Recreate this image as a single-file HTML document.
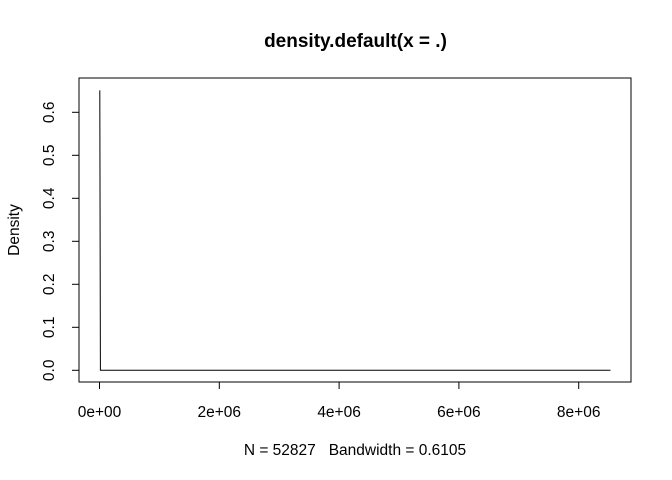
<!DOCTYPE html>
<html><head><meta charset="utf-8"><style>
html,body{margin:0;padding:0;background:#fff;}
svg{display:block;font-family:"Liberation Sans",Arial,sans-serif;}
text{white-space:pre;}
</style></head><body>
<svg id="chart" width="672" height="480" viewBox="0 0 672 480">
<text x="355.5" y="47" text-anchor="middle" font-size="19" font-weight="bold">density.default(x = .)</text>
<rect x="79" y="78" width="552" height="304" fill="none" stroke="#000" stroke-width="1"/>
<g id="xaxis"></g>
<g id="yaxis"></g>
<path id="curve" fill="none" stroke="#000" stroke-width="1"/>
<text x="355" y="455" text-anchor="middle" font-size="15.5" xml:space="preserve">N = 52827   Bandwidth = 0.6105</text>
<text transform="translate(19,230) rotate(-90)" text-anchor="middle" font-size="15.5">Density</text>
</svg>
<script>
const xTicks = [0, 2e6, 4e6, 6e6, 8e6];
const xTickLabels = ["0e+00", "2e+06", "4e+06", "6e+06", "8e+06"];
const yTicks = [0, 0.1, 0.2, 0.3, 0.4, 0.5, 0.6];
const yTickLabels = ["0.0", "0.1", "0.2", "0.3", "0.4", "0.5", "0.6"];
const curveX = [0, 5000, 15000, 8530000];
const curveY = [0.65, 0.65, 0, 0];

const NS = "http://www.w3.org/2000/svg";
function sx(v){ return 99.5 + v * 59.9e-6; }
function sy(v){ return 370.3 - v * 430; }
function mk(tag, attrs, parent){
  const e = document.createElementNS(NS, tag);
  for (const k in attrs) e.setAttribute(k, attrs[k]);
  parent.appendChild(e);
  return e;
}
const xa = document.getElementById('xaxis');
const ya = document.getElementById('yaxis');
mk('line', {x1: sx(xTicks[0]), x2: sx(xTicks[xTicks.length-1]), y1: 382, y2: 382, stroke: '#000'}, xa);
xTicks.forEach((t, i) => {
  const l = mk('line', {x1: sx(t), x2: sx(t), y1: 382, y2: 389, stroke: '#000'}, xa);
  
  
  const tx = mk('text', {x: sx(t), y: 417, 'text-anchor': 'middle', 'font-size': 15.5}, xa);
  tx.textContent = xTickLabels[i];
  
  
});
mk('line', {x1: 79, x2: 79, y1: sy(yTicks[0]), y2: sy(yTicks[yTicks.length-1]), stroke: '#000'}, ya);
yTicks.forEach((t, i) => {
  const l = mk('line', {x1: 72, x2: 79, y1: sy(t), y2: sy(t), stroke: '#000'}, ya);
  
  
  const y = sy(t);
  const tx = mk('text', {x: 0, y: 0, 'text-anchor': 'middle', 'font-size': 15.5, transform: 'translate(54,' + y + ') rotate(-90)'}, ya);
  tx.textContent = yTickLabels[i];
  
  
});
let d = '';
curveX.forEach((x, i) => { d += (i ? 'L' : 'M') + sx(x).toFixed(2) + ',' + sy(curveY[i]).toFixed(2); });
document.getElementById('curve').setAttribute('d', d);
</script>
</body></html>
